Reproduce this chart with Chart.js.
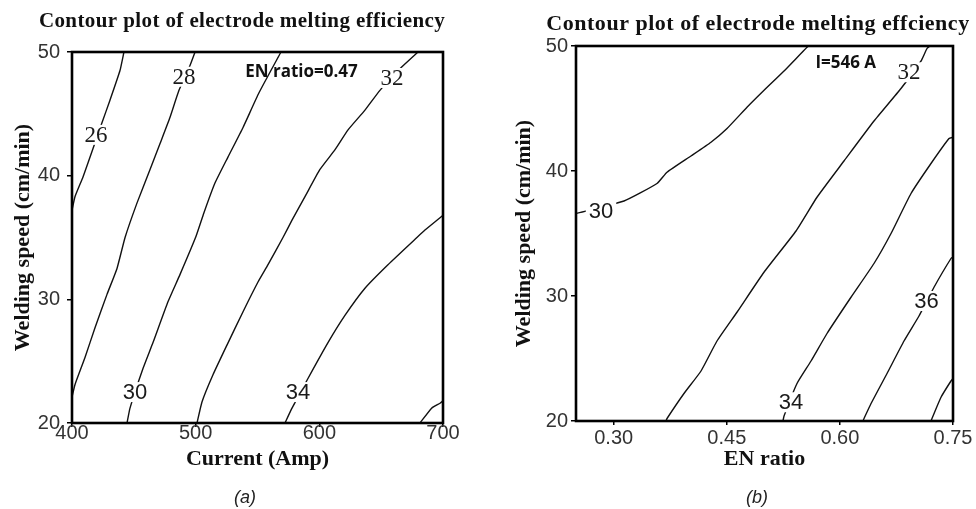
<!DOCTYPE html>
<html>
<head>
<meta charset="utf-8">
<title>Electrode melting efficiency contours</title>
<script src="https://cdn.jsdelivr.net/npm/chart.js@4.4.1/dist/chart.umd.min.js"></script>
<style>
  body { margin: 0; background: #fff; }
  .wrap { position: relative; width: 976px; height: 509px; }
  .wrap canvas { position: absolute; top: 0; }
</style>
</head>
<body>
<div class="wrap">
  <canvas id="panelA" width="488" height="509" style="left:0"></canvas>
  <canvas id="panelB" width="488" height="509" style="left:488px"></canvas>
</div>
<script>
// tick values
const ampTicks = [400, 500, 600, 700];
const speedTicks = [20, 30, 40, 50];
const enTicks = [0.30, 0.45, 0.60, 0.75];

// (a) current (A) vs welding speed (cm/min), EN ratio = 0.47
const levelsA = [26, 28, 30, 32, 34, 36];
const a26 = [[400, 37.2], [402.4, 38.3], [408.9, 39.9], [417.0, 42.2], [424.3, 44.3], [430.7, 46.1], [438.8, 48.5], [442.0, 50]];
const a28 = [[400, 22.1], [402.4, 23.1], [410.5, 25.3], [418.6, 27.7], [428.3, 30.4], [436.4, 32.5], [442.9, 35.0], [452.6, 37.8], [463.1, 40.5], [471.2, 42.6], [479.2, 44.7], [486.5, 46.9], [495.4, 48.9], [499.5, 50]];
const a30 = [[444.5, 20], [446.9, 21.2], [457.4, 24.4], [465.5, 26.5], [477.6, 29.8], [487.3, 32.0], [500.3, 35.1], [506.7, 37.0], [515.6, 39.4], [526.1, 41.5], [538.3, 43.9], [551.2, 46.7], [569.0, 50]];
const a32 = [[501.1, 20], [505.1, 21.7], [514.0, 23.9], [525.3, 26.3], [538.3, 29.0], [550.4, 31.4], [558.5, 32.8], [570.6, 35.0], [577.9, 36.4], [588.4, 38.3], [600.5, 40.5], [612.7, 42.1], [623.2, 43.7], [636.9, 45.3], [649.0, 46.9], [666.8, 48.8], [679.8, 50]];
const a34 = [[572.2, 20], [577.9, 21.2], [590.8, 23.6], [607.0, 26.5], [620.7, 28.7], [636.9, 30.9], [655.5, 32.8], [678.9, 35.0], [685.4, 35.6], [697.6, 36.6], [700, 36.8]];
const a36 = [[681.4, 20], [690.8, 21.2], [697.6, 21.6], [700, 21.8]];
const labelsA = [[26, 419.4, 43.3], [28, 490.6, 48.0], [30, 450.9, 22.5], [32, 658.8, 47.9], [34, 582.7, 22.5]];

// (b) EN ratio vs welding speed (cm/min), I = 546 A
const levelsB = [30, 32, 34, 36, 38];
const b30 = [[0.25, 36.6], [0.3137, 37.6], [0.3574, 39.0], [0.3707, 39.9], [0.4025, 41.2], [0.4290, 42.3], [0.4503, 43.4], [0.4768, 45.1], [0.4967, 46.3], [0.5259, 48.0], [0.5564, 49.9], [0.5590, 50]];
const b32 = [[0.3694, 20], [0.3707, 20.2], [0.3932, 22.2], [0.4158, 24.0], [0.4370, 26.4], [0.4635, 28.7], [0.4993, 31.9], [0.5418, 35.2], [0.5696, 37.9], [0.6054, 40.8], [0.6452, 44.0], [0.6810, 46.6], [0.7076, 48.8], [0.7155, 49.8], [0.7195, 50]];
const b34 = [[0.5245, 20], [0.5259, 20.4], [0.5431, 23.0], [0.5617, 24.8], [0.5829, 27.0], [0.6147, 29.9], [0.6452, 32.6], [0.6678, 35.0], [0.6943, 38.2], [0.7208, 40.6], [0.7447, 42.6], [0.75, 42.7]];
const b36 = [[0.6306, 20], [0.6320, 20.2], [0.6413, 21.4], [0.6625, 23.8], [0.6850, 26.4], [0.7049, 28.4], [0.7248, 30.7], [0.7473, 33.0], [0.75, 33.1]];
const b38 = [[0.7208, 20], [0.7221, 20.2], [0.7341, 21.9], [0.7473, 23.2], [0.75, 23.4]];
const labelsB = [[30, 0.2832, 36.8], [32, 0.6917, 47.9], [34, 0.5352, 21.5], [36, 0.7149, 29.6]];

const SERIF = '"Liberation Serif", "Times New Roman", serif';
const SANS = '"Liberation Sans", Arial, sans-serif';

// draws contour labels, the plot frame and the panel texts
const panelText = {
  id: 'panelText',
  afterDatasetsDraw(chart, args, opts) {
    const { ctx, chartArea: area } = chart;
    const xs = chart.scales.x, ys = chart.scales.y;
    ctx.save();
    ctx.textAlign = 'center';
    ctx.textBaseline = 'middle';
    opts.labels.forEach(([level, lx, ly]) => {
      const px = xs.getPixelForValue(lx);
      const py = ys.getPixelForValue(ly);
      const txt = String(level);
      ctx.font = opts.serifLevels.includes(level) ? '23px ' + SERIF : '22px ' + SANS;
      const w = ctx.measureText(txt).width;
      ctx.fillStyle = '#fff';
      ctx.fillRect(px - w / 2 - 3, py - 10, w + 6, 20);
      ctx.fillStyle = '#1a1a1a';
      ctx.fillText(txt, px, py + 1);
    });

    ctx.font = 'bold 17px "Open Sans", ' + SANS;
    ctx.fillStyle = '#111';
    ctx.fillText(opts.note.text, xs.getPixelForValue(opts.note.x), ys.getPixelForValue(opts.note.y));

    ctx.lineWidth = 2.6;
    ctx.strokeStyle = '#000';
    ctx.strokeRect(area.left, area.top, area.right - area.left, area.bottom - area.top);
    ctx.restore();
  },
  afterDraw(chart, args, opts) {
    const ctx = chart.ctx;
    const h = opts.headline;
    ctx.save();
    ctx.fillStyle = '#111';
    ctx.textAlign = 'center';
    ctx.textBaseline = 'alphabetic';
    ctx.font = 'bold ' + h.size + 'px ' + SERIF;
    const w = ctx.measureText(h.text).width;
    ctx.letterSpacing = Math.max(0, (h.width - w) / (h.text.length - 1)).toFixed(2) + 'px';
    ctx.fillText(h.text, h.x, h.y);
    ctx.letterSpacing = '0px';

    ctx.font = 'italic 18px ' + SANS;
    ctx.fillStyle = '#222';
    ctx.fillText(opts.caption.text, opts.caption.x, opts.caption.y);
    ctx.restore();
  }
};

function toPoints(path) {
  return path.map(([x, y]) => ({ x, y }));
}

function makePanel(id, cfg) {
  const datasets = cfg.paths.map((path, i) => ({
    label: String(cfg.levels[i]),
    data: toPoints(path),
    showLine: true,
    borderColor: '#111',
    borderWidth: 1.4,
    pointRadius: 0,
    tension: 0.15,
    fill: false
  }));

  const axisTitle = text => ({
    display: true,
    text,
    color: '#111',
    font: { family: SERIF, size: 22, weight: 'bold' },
    padding: 0
  });

  return new Chart(document.getElementById(id), {
    type: 'scatter',
    data: { datasets },
    options: {
      responsive: false,
      animation: false,
      events: [],
      layout: { autoPadding: false, padding: cfg.padding },
      plugins: {
        legend: { display: false },
        tooltip: { enabled: false },
        panelText: {
          labels: cfg.labels,
          serifLevels: cfg.serifLevels,
          note: cfg.note,
          headline: cfg.headline,
          caption: cfg.caption
        }
      },
      scales: {
        x: {
          type: 'linear',
          min: cfg.xMin,
          max: cfg.xMax,
          afterBuildTicks: s => { s.ticks = cfg.xTicks.map(v => ({ value: v })); },
          afterFit: s => { s.height = cfg.xHeight; },
          border: { display: false },
          grid: { drawOnChartArea: false, drawTicks: true, tickLength: 4, color: '#000', lineWidth: 1.5 },
          ticks: {
            padding: cfg.xTickPad,
            color: '#333',
            font: { family: SANS, size: 20 },
            callback: cfg.xFormat
          },
          title: axisTitle(cfg.xTitle)
        },
        y: {
          type: 'linear',
          min: 20,
          max: 50,
          afterBuildTicks: s => { s.ticks = speedTicks.map(v => ({ value: v })); },
          afterFit: s => { s.width = cfg.yWidth; },
          border: { display: false },
          grid: { drawOnChartArea: false, drawTicks: true, tickLength: 5, color: '#000', lineWidth: 1.5 },
          ticks: {
            padding: cfg.yTickPad,
            color: '#333',
            font: { family: SANS, size: 20 }
          },
          title: axisTitle('Welding speed (cm/min)')
        }
      }
    },
    plugins: [panelText]
  });
}

makePanel('panelA', {
  levels: levelsA,
  paths: [a26, a28, a30, a32, a34, a36],
  labels: labelsA,
  serifLevels: [26, 28, 32],
  xMin: 400, xMax: 700, xTicks: ampTicks,
  xFormat: v => String(v),
  xTitle: 'Current (Amp)',
  padding: { left: 10, right: 45, top: 52, bottom: 36 },
  yWidth: 62, xHeight: 50,
  xTickPad: -6, yTickPad: 7,
  note: { text: 'EN ratio=0.47', x: 585.6, y: 48.4 },
  headline: { text: 'Contour plot of electrode melting efficiency', x: 242, y: 27, width: 406, size: 21 },
  caption: { text: '(a)', x: 245, y: 503 }
});

makePanel('panelB', {
  levels: levelsB,
  paths: [b30, b32, b34, b36, b38],
  labels: labelsB,
  serifLevels: [32],
  xMin: 0.25, xMax: 0.75, xTicks: enTicks,
  xFormat: v => v.toFixed(2),
  xTitle: 'EN ratio',
  padding: { left: 23, right: 23, top: 46, bottom: 36 },
  yWidth: 65, xHeight: 52,
  xTickPad: 1, yTickPad: 3,
  note: { text: 'I=546 A', x: 0.6077, y: 48.6 },
  headline: { text: 'Contour plot of electrode melting effciency', x: 270, y: 30, width: 423, size: 22 },
  caption: { text: '(b)', x: 269, y: 503 }
});
</script>
</body>
</html>
